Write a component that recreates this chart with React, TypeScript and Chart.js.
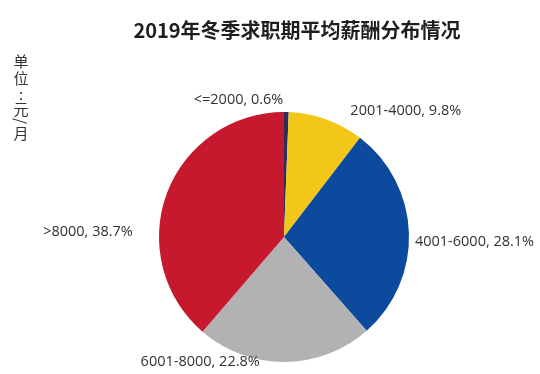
import React, { useEffect, useRef } from "react";
import { Chart, registerables } from "chart.js";

Chart.register(...registerables);

const categories = ["<=2000", "2001-4000", "4001-6000", "6001-8000", ">8000"];
const shares = [0.6, 9.8, 28.1, 22.8, 38.7];
const colors = ["#2E2D5E", "#F2C718", "#0B4A9D", "#B2B2B4", "#C6192D"];
const titleText = "2019年冬季求职期平均薪酬分布情况";
const unitChars = ["单", "位", ":", "元", "/", "月"];

// label offsets relative to the slice's outer mid point
const labelOffsets = [
  { dx: -3, dy: -12, align: "right" },
  { dx: 24, dy: -9, align: "left" },
  { dx: 6, dy: 9, align: "left" },
  { dx: -25, dy: 0, align: "right" },
  { dx: -34, dy: 38, align: "right" },
];

const textPlugin = {
  id: "textPlugin",
  afterDraw(chart: any) {
    const ctx = chart.ctx as CanvasRenderingContext2D;
    ctx.save();
    // title
    ctx.fillStyle = "#1e1e1e";
    ctx.font = "bold 20px 'Noto Sans CJK SC', sans-serif";
    ctx.textAlign = "center";
    ctx.textBaseline = "middle";
    ctx.fillText(titleText, 297, 30);

    // unit label, vertical
    ctx.font = "15px 'Noto Sans CJK SC', sans-serif";
    ctx.fillStyle = "#333";
    const ys = [61, 78, 94, 109, 121, 133];
    unitChars.forEach((c, i) => {
      if (c === "/") {
        ctx.save();
        ctx.translate(21, ys[i]);
        ctx.rotate(Math.PI / 2);
        ctx.fillText(c, 0, 0);
        ctx.restore();
      } else {
        ctx.fillText(c, 21, ys[i]);
      }
    });

    // slice labels
    const meta = chart.getDatasetMeta(0);
    ctx.font = "14.5px 'Open Sans', sans-serif";
    ctx.fillStyle = "#333";
    meta.data.forEach((arc: any, i: number) => {
      const mid = (arc.startAngle + arc.endAngle) / 2;
      const ax = arc.x + Math.cos(mid) * arc.outerRadius;
      const ay = arc.y + Math.sin(mid) * arc.outerRadius;
      const o = labelOffsets[i];
      ctx.textAlign = o.align as CanvasTextAlign;
      ctx.textBaseline = "middle";
      ctx.fillText(`${categories[i]}, ${shares[i]}%`, ax + o.dx, ay + o.dy);
    });
    ctx.restore();
  },
};

export default function App() {
  const ref = useRef<HTMLCanvasElement>(null);
  useEffect(() => {
    if (!ref.current) return;
    const chart = new Chart(ref.current, {
      type: "pie",
      data: {
        labels: categories,
        datasets: [
          {
            data: shares,
            backgroundColor: colors,
            borderWidth: 0,
          },
        ],
      },
      options: {
        animation: false,
        responsive: false,
        devicePixelRatio: 1,
        layout: { padding: { top: 112, bottom: 12, left: 159, right: 131 } },
        plugins: {
          legend: { display: false },
          tooltip: { enabled: false },
          title: { display: false },
        },
      },
      plugins: [textPlugin],
    });
    return () => chart.destroy();
  }, []);
  return (
    <div style={{ position: "fixed", left: 0, top: 0, width: 540, height: 374, background: "#fff" }}>
      <canvas ref={ref} width={540} height={374} style={{ width: 540, height: 374 }} />
    </div>
  );
}
